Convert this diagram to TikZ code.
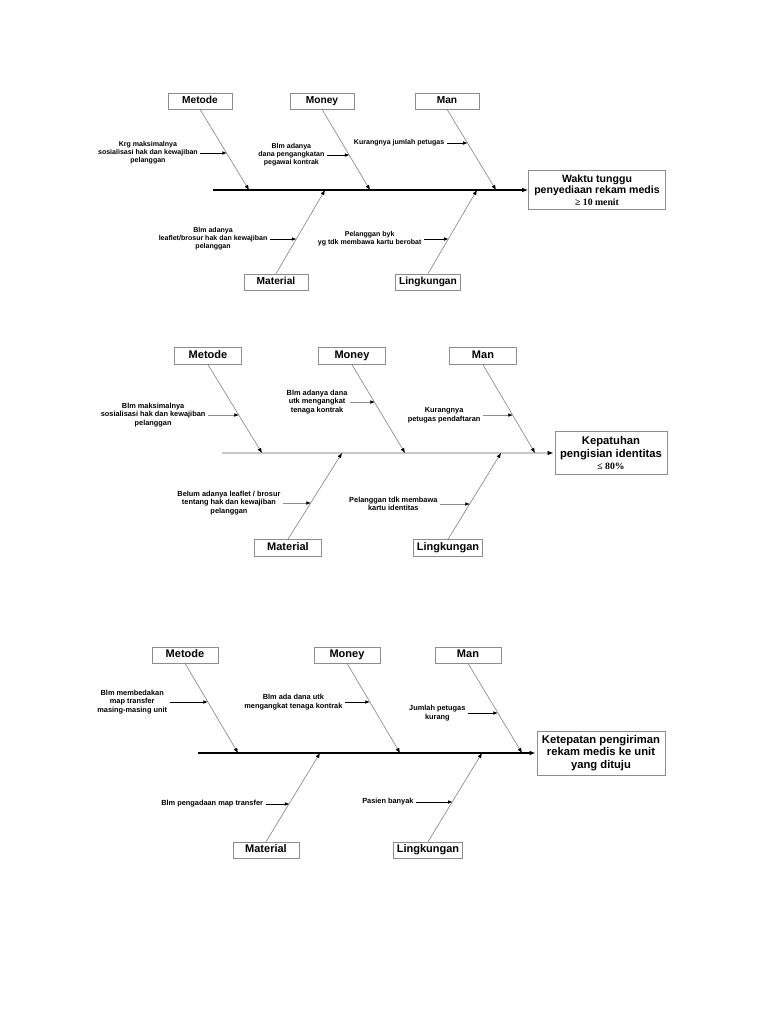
\documentclass[tikz,border=0pt]{standalone}
\usepackage{fontspec}
\setmainfont{Liberation Serif}
\setsansfont{Liberation Sans}
\usetikzlibrary{arrows.meta,positioning}
\newcommand{\qtyfont}{\rmfamily\bfseries\fontsize{8.3}{9}\selectfont}

\begin{document}
\begin{tikzpicture}[
  x=0.03cm, y=-0.03cm,
  font=\sffamily\bfseries,
  cat/.style={draw=black!45,line width=0.5pt,fill=white,minimum width=1.92cm,minimum height=0.48cm,
    inner xsep=3pt,inner ysep=1pt,text height=1.55ex,text depth=0.45ex,
    font=\sffamily\bfseries\fontsize{8.7}{10}\selectfont},
  effect/.style={draw=black!45,line width=0.5pt,fill=white,align=center,inner sep=1pt,
    font=\sffamily\bfseries\fontsize{9}{9.6}\selectfont},
  cause/.style={align=center,inner sep=2pt,font=\sffamily\bfseries\fontsize{6}{6.9}\selectfont},
  bone/.style={draw=black!50,line width=0.5pt,-{Latex[length=1.5mm,width=1.2mm,color=black]}},
  spine/.style={draw=black,line width=1.1pt,-{Latex[length=1.8mm,width=1.4mm,color=black]}},
  sub/.style={draw=black,line width=0.7pt,-{Latex[length=1.4mm,width=1.1mm,color=black]}}
]
\useasboundingbox (0,0) rectangle (768,1024);

% ---- diagram 1: waktu tunggu ----
\node[cat] (met1) at (200,101) {Metode};
\node[cat] (mon1) at (322,101) {Money};
\node[cat] (man1) at (447,101) {Man};
\node[cat] (mat1) at (276,282) {Material};
\node[cat] (lin1) at (428,282) {Lingkungan};
\node[effect,minimum width=4.11cm,minimum height=1.17cm] (eff1) at (597,190)
  {Waktu tunggu\\penyediaan rekam medis\\{\qtyfont ≥ 10 menit}};

\coordinate (s1) at (213,190);
\draw[spine] (s1) -- (eff1);

\coordinate (t1a) at (249,190);
\coordinate (t1b) at (370,190);
\coordinate (t1c) at (496,190);
\coordinate (t1d) at (325,190);
\coordinate (t1e) at (477,190);
\foreach \c/\t in {met1.south/t1a, mon1.south/t1b, man1.south/t1c, mat1.north/t1d, lin1.north/t1e}
  \draw[bone] (\c) -- (\t);

\coordinate (b1a) at (227,153);
\coordinate (b1b) at (349.6,155);
\coordinate (b1c) at (467.8,143);
\coordinate (b1d) at (296.6,239);
\coordinate (b1e) at (448.7,239);
\node[cause,left=0.8cm of b1a] (c1a) {Krg maksimalnya\\sosialisasi hak dan kewajiban\\pelanggan};
\node[cause,left=0.68cm of b1b] (c1b) {Blm adanya\\dana pengangkatan\\pegawai kontrak};
\node[cause,left=0.63cm of b1c] (c1c) {Kurangnya jumlah petugas};
\node[cause,left=0.8cm of b1d] (c1d) {Blm adanya\\leaflet/brosur hak dan kewajiban\\pelanggan};
\node[cause,left=0.74cm of b1e] (c1e) {Pelanggan byk\\yg tdk membawa kartu berobat};
\foreach \c/\t in {c1a/b1a, c1b/b1b, c1c/b1c, c1d/b1d, c1e/b1e}
  \draw[sub] (\c) -- (\t);

% ---- diagram 2: kepatuhan ----
\begin{scope}[
  cat/.append style={minimum width=2.01cm,minimum height=0.51cm,font=\sffamily\bfseries\fontsize{9.4}{11}\selectfont},
  effect/.append style={font=\sffamily\bfseries\fontsize{9.6}{10.6}\selectfont},
  cause/.append style={font=\sffamily\bfseries\fontsize{6.3}{7.3}\selectfont},
  spine/.append style={draw=black!22,line width=1pt},
  sub/.append style={draw=black!45,line width=0.6pt}]
\node[cat] (met2) at (208,356) {Metode};
\node[cat] (mon2) at (352,356) {Money};
\node[cat] (man2) at (483,356) {Man};
\node[cat] (mat2) at (288,548) {Material};
\node[cat] (lin2) at (448,548) {Lingkungan};
\node[effect,minimum width=3.36cm,minimum height=1.29cm] (eff2) at (611,453)
  {Kepatuhan\\pengisian identitas\\{\qtyfont ≤ 80\%}};

\coordinate (s2) at (222,453);
\draw[spine,shorten >=1pt] (s2) -- (eff2);

\coordinate (t2a) at (262,453);
\coordinate (t2b) at (405,453);
\coordinate (t2c) at (535,453);
\coordinate (t2d) at (342,453);
\coordinate (t2e) at (501,453);
\foreach \c/\t in {met2.south/t2a, mon2.south/t2b, man2.south/t2c, mat2.north/t2d, lin2.north/t2e}
  \draw[bone] (\c) -- (\t);

\coordinate (b2a) at (239,415);
\coordinate (b2b) at (375,402);
\coordinate (b2c) at (513,415);
\coordinate (b2d) at (311,503);
\coordinate (b2e) at (470,504);
\node[cause,left=0.93cm of b2a] (c2a) {Blm maksimalnya\\sosialisasi hak dan kewajiban\\pelanggan};
\node[cause,left=0.75cm of b2b] (c2b) {Blm adanya dana\\utk mengangkat\\tenaga kontrak};
\node[cause,left=0.9cm of b2c] (c2c) {Kurangnya\\petugas pendaftaran};
\node[cause,left=0.84cm of b2d] (c2d) {Belum adanya leaflet / brosur\\tentang hak dan kewajiban\\pelanggan};
\node[cause,left=0.9cm of b2e] (c2e) {Pelanggan tdk membawa\\kartu identitas};
\foreach \c/\t in {c2a/b2a, c2b/b2b, c2c/b2c, c2d/b2d, c2e/b2e}
  \draw[sub] (\c) -- (\t);
\end{scope}

% ---- diagram 3: ketepatan pengiriman ----
\begin{scope}[
  cat/.append style={minimum width=1.98cm,minimum height=0.48cm,font=\sffamily\bfseries\fontsize{9.4}{11}\selectfont},
  effect/.append style={font=\sffamily\bfseries\fontsize{9.6}{10.6}\selectfont},
  cause/.append style={font=\sffamily\bfseries\fontsize{6.3}{7.3}\selectfont}]
\node[cat] (met3) at (185,655) {Metode};
\node[cat] (mon3) at (347,655) {Money};
\node[cat] (man3) at (468,655) {Man};
\node[cat] (mat3) at (266,850) {Material};
\node[cat] (lin3) at (428,850) {Lingkungan};
\node[effect,minimum width=3.84cm,minimum height=1.32cm] (eff3) at (601,753)
  {Ketepatan pengiriman\\rekam medis ke unit\\yang dituju};

\coordinate (s3) at (198,753);
\draw[spine,shorten >=1pt] (s3) -- (eff3);

\coordinate (t3a) at (238,753);
\coordinate (t3b) at (400,753);
\coordinate (t3c) at (522,753);
\coordinate (t3d) at (320,753);
\coordinate (t3e) at (482,753);
\foreach \c/\t in {met3.south/t3a, mon3.south/t3b, man3.south/t3c, mat3.north/t3d, lin3.north/t3e}
  \draw[bone] (\c) -- (\t);

\coordinate (b3a) at (208,702);
\coordinate (b3b) at (370,702);
\coordinate (b3c) at (498,713);
\coordinate (b3d) at (289.6,804);
\coordinate (b3e) at (452.8,802);
\node[cause,left=1.15cm of b3a] (c3a) {Blm membedakan\\map transfer\\masing-masing unit};
\node[cause,left=0.75cm of b3b] (c3b) {Blm ada dana utk\\mengangkat tenaga kontrak};
\node[cause,left=0.9cm of b3c] (c3c) {Jumlah petugas\\kurang};
\node[cause,left=0.72cm of b3d] (c3d) {Blm pengadaan map transfer};
\node[cause,left=1.1cm of b3e] (c3e) {Pasien banyak};
\foreach \c/\t in {c3a/b3a, c3b/b3b, c3c/b3c, c3d/b3d, c3e/b3e}
  \draw[sub] (\c) -- (\t);
\end{scope}

\end{tikzpicture}
\end{document}
